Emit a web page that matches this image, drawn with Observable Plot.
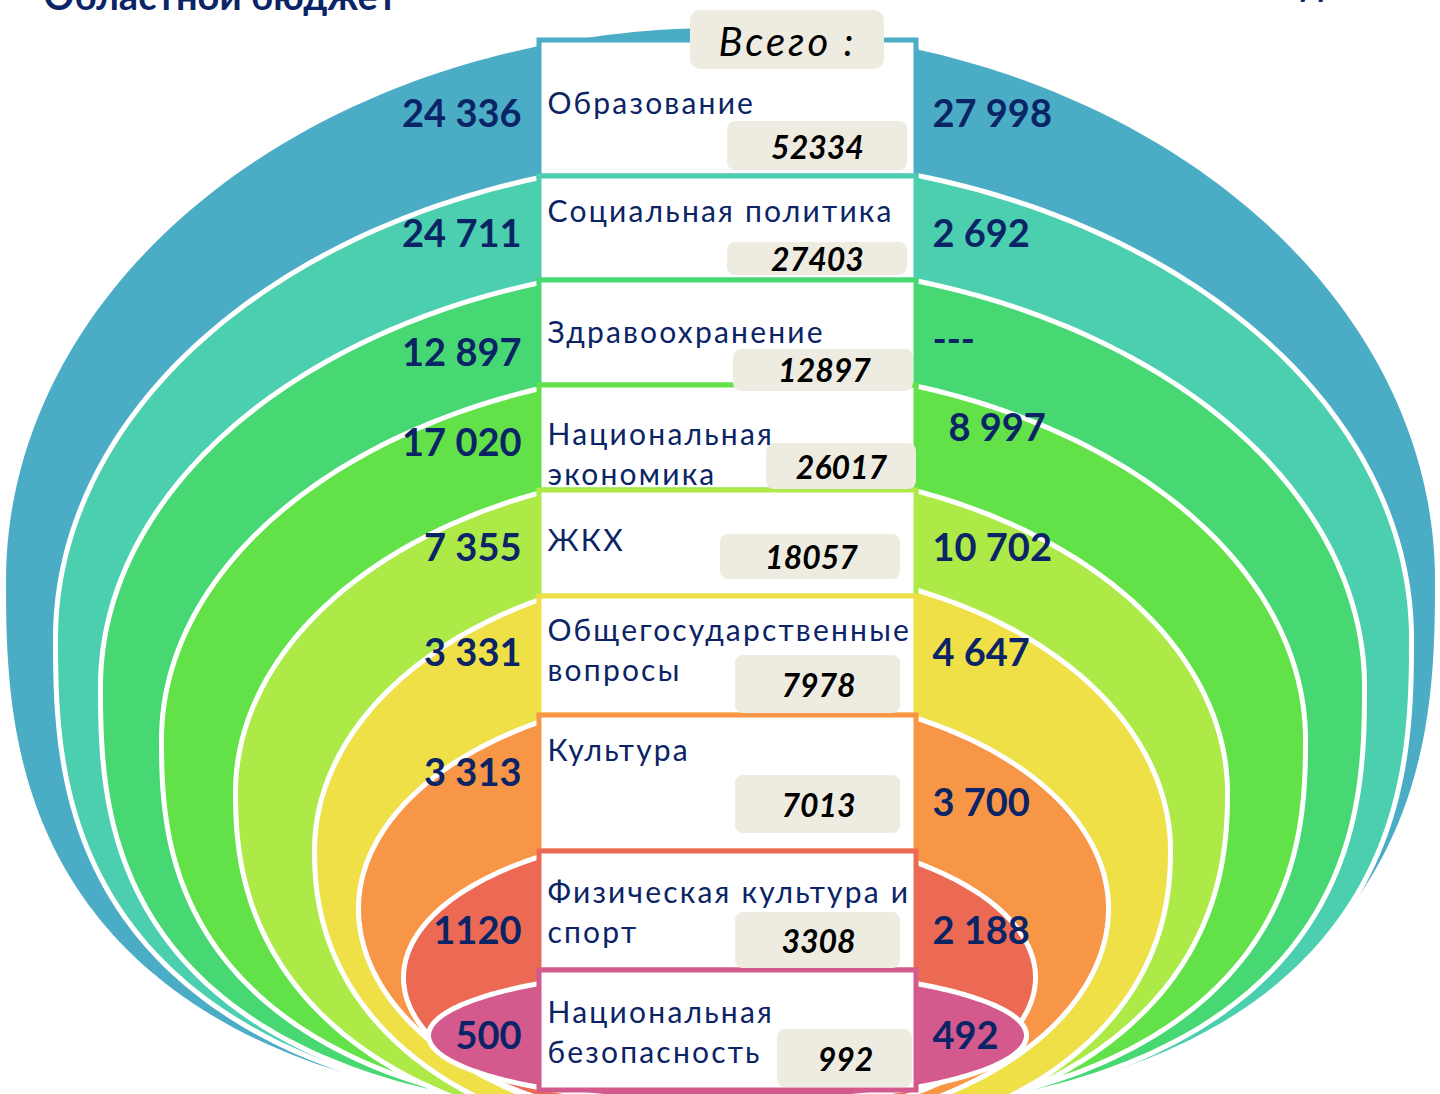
<!DOCTYPE html>
<html>
<head>
<meta charset="utf-8">
<script src="https://cdn.jsdelivr.net/npm/d3@7"></script>
<script src="https://cdn.jsdelivr.net/npm/@observablehq/plot@0.6"></script>
<style>
  html, body { margin: 0; padding: 0; background: #fff; overflow: hidden; }
  #chart svg { display: block; overflow: hidden; }
</style>
</head>
<body>
<div id="chart"></div>
<script>
// ---------- DATA ----------
const categories = [
  "Образование",
  "Социальная политика",
  "Здравоохранение",
  "Национальная\nэкономика",
  "ЖКХ",
  "Общегосударственные\nвопросы",
  "Культура",
  "Физическая культура и\nспорт",
  "Национальная\nбезопасность"
];
const regionalBudget = ["24 336", "24 711", "12 897", "17 020", "7 355", "3 331", "3 313", "1120", "500"];
const localBudget    = ["27 998", "2 692", "---", "8 997", "10 702", "4 647", "3 700", "2 188", "492"];
const totals         = ["52334", "27403", "12897", "26017", "18057", "7978", "7013", "3308", "992"];
const totalHeader = "Всего :";
const titles = ["Областной бюджет", "Районный бюджет"];

// ---------- STYLE ----------
const ringColors = ["#4BACC6", "#4BCFAF", "#48D873", "#62E148", "#ADEA48", "#EFE048", "#F79646", "#EC6A53", "#D45A8E"];
const navy = "#0A2466";
const boxFill = "#EEECE1";
const FONT = "Lato, 'Open Sans', 'Noto Sans', sans-serif";

// ---------- LAYOUT (pixels) ----------
const W = 1440, H = 1094;
const colLeft = 539, colRight = 916;
const rowEdges = [40, 176, 280, 385, 490, 596, 715, 851, 970, 1090];
// ring shapes: centre x, radius x, centre y, upper radius y, lower radius y, lower exponent
const ringGeom = [
  [720, 717, 580, 555, 536, 2.6],
  [733, 678, 638, 481, 479, 2.6],
  [732, 632, 686, 424, 431, 2.6],
  [733, 572, 739, 373, 380, 2.5],
  [731, 496, 792, 325, 348, 2.3],
  [742, 428, 850, 285, 300, 2.2],
  [733, 375, 908, 218, 225, 2],
  [719, 316, 977, 147, 147, 2],
  [727, 299, 1035, 67, 67, 2]
];
const labelX = 547;
const labelBase = [113, 221, 342, 484, 550, 680, 760, 942, 1062];
const leftX = 521;
const leftBase = [126, 246, 365, 455, 560, 665, 785, 943, 1048];
const rightX = [932, 932, 932, 948, 932, 932, 932, 932, 932];
const rightBase = [126, 246, 352, 440, 560, 665, 815, 943, 1048];
// total boxes: x1, x2, y1, y2, text centre x, text baseline
const boxGeom = [
  [727, 907, 121, 170, 817, 158],
  [727, 907, 242, 275, 817, 270],
  [733, 913, 349, 391, 824, 381],
  [766, 916, 443, 489, 841, 478],
  [720, 900, 534, 579, 811, 568],
  [735, 900, 655, 713, 818, 696],
  [735, 900, 775, 833, 818, 816],
  [735, 900, 912, 968, 818, 952],
  [777, 912, 1029, 1087, 845, 1070]
];
const headerBox = [690, 884, 10, 69, 787, 55];

// ---------- BUILD TABLES ----------
const rows = categories.map((name, i) => ({
  name,
  left: regionalBudget[i],
  right: localBudget[i],
  total: totals[i],
  color: ringColors[i],
  top: rowEdges[i],
  bottom: rowEdges[i + 1],
  labelY: labelBase[i],
  leftY: leftBase[i],
  rightX: rightX[i],
  rightY: rightBase[i],
  box: boxGeom[i]
}));

// outline of one ring: elliptical upper half, superelliptic lower half
function ringOutline([cx, rx, cy, ryTop, ryBottom, n], steps = 360) {
  const pts = [];
  for (let k = 0; k < steps; ++k) {
    const t = (2 * Math.PI * k) / steps;
    const c = Math.cos(t), s = Math.sin(t);
    if (s < 0) {
      pts.push({x: cx + rx * c, y: cy + ryTop * s});
    } else {
      const p = 2 / n;
      pts.push({
        x: cx + rx * Math.sign(c) * Math.pow(Math.abs(c), p),
        y: cy + ryBottom * Math.pow(s, p)
      });
    }
  }
  return pts;
}

const ringMarks = ringGeom.map((g, i) =>
  Plot.line(ringOutline(g), {
    x: "x", y: "y", curve: "linear-closed",
    fill: ringColors[i], stroke: "white", strokeWidth: 5
  })
);

const chart = Plot.plot({
  width: W,
  height: H,
  margin: 0,
  x: {domain: [0, W], range: [0, W], axis: null},
  y: {domain: [0, H], range: [0, H], axis: null},
  color: {type: "identity"},
  style: {fontFamily: FONT, background: "white", overflow: "hidden"},
  marks: [
    ...ringMarks,
    // central column cells
    Plot.rect(rows, {
      x1: () => colLeft, x2: () => colRight,
      y1: "top", y2: "bottom",
      fill: "white", stroke: "color", strokeWidth: 5
    }),
    // total boxes
    Plot.rect(rows, {
      x1: d => d.box[0], x2: d => d.box[1], y1: d => d.box[2], y2: d => d.box[3],
      fill: boxFill, rx: 8
    }),
    Plot.rect([totalHeader], {
      x1: () => headerBox[0], x2: () => headerBox[1], y1: () => headerBox[2], y2: () => headerBox[3],
      fill: boxFill, rx: 10
    }),
    Plot.text([totalHeader], {
      x: () => headerBox[4], y: () => headerBox[5], text: d => d,
      textAnchor: "middle", lineAnchor: "bottom",
      fontSize: 40, fontStyle: "italic", fill: "#000"
    }),
    // category labels
    Plot.text(rows, {
      x: () => labelX, y: "labelY", text: "name",
      textAnchor: "start", lineAnchor: "bottom", lineHeight: 1.33,
      fontSize: 30, fill: navy
    }),
    // totals
    Plot.text(rows, {
      x: d => d.box[4], y: d => d.box[5], text: "total",
      textAnchor: "middle", lineAnchor: "bottom",
      fontSize: 32, fontWeight: "bold", fontStyle: "italic", fill: "#000"
    }),
    // regional (left) values
    Plot.text(rows, {
      x: () => leftX, y: "leftY", text: "left",
      textAnchor: "end", lineAnchor: "bottom",
      fontSize: 38, fontWeight: "bold", fill: navy
    }),
    // local (right) values
    Plot.text(rows, {
      x: "rightX", y: "rightY", text: "right",
      textAnchor: "start", lineAnchor: "bottom",
      fontSize: 38, fontWeight: "bold", fill: navy
    }),
    // titles (cut off at the top edge, as in the source)
    Plot.text([titles[0]], {
      x: () => 43, y: () => 9, text: d => d,
      textAnchor: "start", lineAnchor: "bottom",
      fontSize: 38, fontWeight: "bold", fill: navy
    }),
    Plot.text([titles[1]], {
      x: () => 1389, y: () => -5, text: d => d,
      textAnchor: "end", lineAnchor: "bottom",
      fontSize: 36, fontWeight: "bold", fill: navy
    })
  ]
});

// letter spacing like the source slide
d3.select(chart).selectAll('g[font-size="30"]').attr("letter-spacing", "2.2px");
d3.select(chart).selectAll('g[font-size="40"]').attr("letter-spacing", "3px");

document.getElementById("chart").appendChild(chart);
</script>
</body>
</html>
